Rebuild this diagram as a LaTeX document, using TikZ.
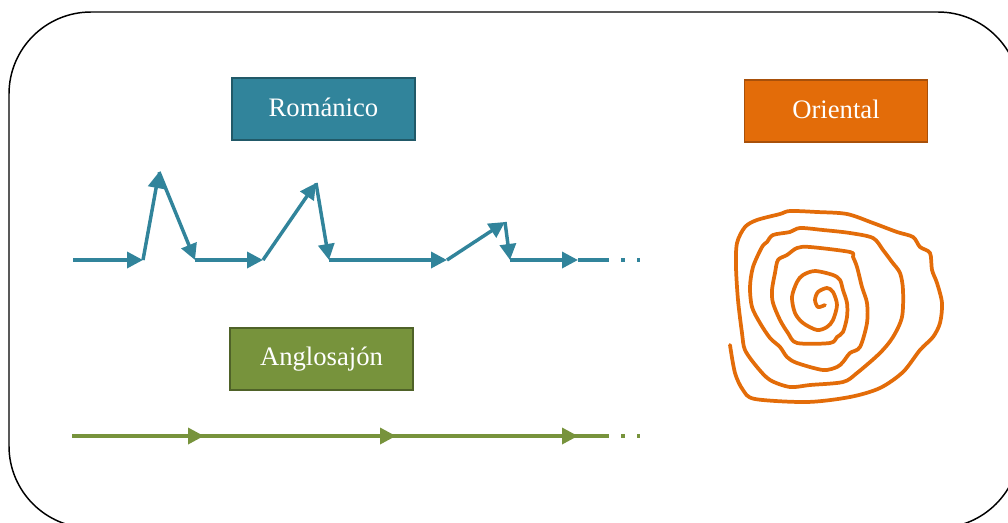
\documentclass[tikz,border=0pt]{standalone}
\usepackage{fontspec}
\setmainfont{Liberation Serif}
\usetikzlibrary{arrows.meta}
\definecolor{tealfill}{HTML}{31849B}
\definecolor{tealedge}{HTML}{215968}
\definecolor{orangefill}{HTML}{E36C09}
\definecolor{orangeedge}{HTML}{A8500A}
\definecolor{greenfill}{HTML}{77933C}
\definecolor{greenedge}{HTML}{4F6228}
\tikzset{
  lbl/.style={draw, line width=1.1pt, minimum width=137pt, minimum height=46.5pt,
    inner sep=0pt, text=white, font=\fontsize{20}{24}\selectfont},
  tealarrow/.style={draw=tealfill, line width=2.6pt, -{Triangle[length=12pt,width=12pt]}},
  greenarrow/.style={draw=greenfill, line width=2.6pt, -{Triangle[length=12pt,width=12pt]}},
  tealline/.style={draw=tealfill, line width=2.6pt},
  greenline/.style={draw=greenfill, line width=2.6pt},
}
\begin{document}
\begin{tikzpicture}[x=0.75pt,y=-0.75pt]
\useasboundingbox (0,0) rectangle (1008,522);
\begin{scope}
\clip (0,0) rectangle (1008,522);
\draw[line width=1.1pt, rounded corners=61.5pt] (9,12) rectangle (1020,528);
\end{scope}

\node[lbl, fill=tealfill, draw=tealedge] (rom) at (323.5,109) {\raisebox{3pt}{Románico}};
\node[lbl, fill=orangefill, draw=orangeedge] (ori) at (836,111) {\raisebox{3pt}{Oriental}};
\node[lbl, fill=greenfill, draw=greenedge] (ang) at (321.5,359) {\raisebox{3pt}{Anglosajón}};

% Romanico path
\coordinate (r0) at (73,260);
\coordinate (r1) at (143,260);
\coordinate (r2) at (159,172);
\coordinate (r3) at (195,260);
\coordinate (r4) at (263,260);
\coordinate (r5) at (316,183);
\coordinate (r6) at (329,260);
\coordinate (r7) at (447,260);
\coordinate (r8) at (505,222);
\coordinate (r9) at (510,260);
\coordinate (r10) at (578,260);
\coordinate (r11) at (609,260);
\draw[tealarrow] (r0) -- (r1);
\draw[tealarrow] (r1) -- (r2);
\draw[tealarrow] (r2) -- (r3);
\draw[tealarrow] (r3) -- (r4);
\draw[tealarrow] (r4) -- (r5);
\draw[tealarrow] (r5) -- (r6);
\draw[tealarrow] (r6) -- (r7);
\draw[tealarrow] (r7) -- (r8);
\draw[tealarrow] (r8) -- (r9);
\draw[tealarrow] (r9) -- (r10);
\draw[tealline] (r10) -- (r11);
\fill[tealfill] (621,258.3) rectangle (625,261.7);
\fill[tealfill] (637,258.3) rectangle (640,261.7);

% Anglosajon path
\coordinate (g0) at (72,436);
\coordinate (g1) at (204,436);
\coordinate (g2) at (396,436);
\coordinate (g3) at (578,436);
\coordinate (g4) at (609,436);
\draw[greenline] (g0) -- (g4);
\draw[greenarrow] (g0) -- (g1);
\draw[greenarrow] (g1) -- (g2);
\draw[greenarrow] (g2) -- (g3);
\fill[greenfill] (621,434.3) rectangle (625,437.7);
\fill[greenfill] (637,434.3) rectangle (640,437.7);

% Oriental spiral
\draw[orangefill, line width=2.8pt, line cap=round, line join=round]
  plot[smooth, tension=0.5] coordinates {
  (730,345) (735,373) (743,390) (755,399) (807,402) (850,397) (880,388)
  (903,372) (920,350) (933,337) (940,323) (942,303) (937,283) (932,270)
  (930,253) (920,247) (913,237) (897,232) (873,223) (847,214) (817,212)
  (790,211) (780,214) (757,220) (745,227) (737,243) (736,267) (738,300)
  (742,333) (745,350) (757,367) (770,380) (790,387) (810,385) (843,382)
  (857,373) (880,353) (893,337) (902,317) (903,290) (900,273) (892,262)
  (883,250) (873,238) (850,233) (823,230) (800,228) (790,232) (773,235)
  (767,242) (762,247) (753,267) (750,287) (752,307) (760,323) (770,338)
  (780,347) (787,357) (797,363) (823,370) (837,367) (843,362) (850,353)
  (860,347) (867,323) (867,303) (862,287) (857,267) (853,257) (850,252)
  (810,247) (797,248) (787,255) (778,260) (775,273) (772,290) (773,303)
  (780,320) (788,333) (797,343) (830,343) (837,337) (843,332) (847,317)
  (847,303) (843,290) (840,280) (833,275) (815,271) (803,275) (797,282)
  (792,297) (795,313) (803,323) (817,330) (827,327) (833,320) (837,305)
  (833,292) (827,288) (818,292) (815,300) (818,307) (825,305)};
\end{tikzpicture}
\end{document}
